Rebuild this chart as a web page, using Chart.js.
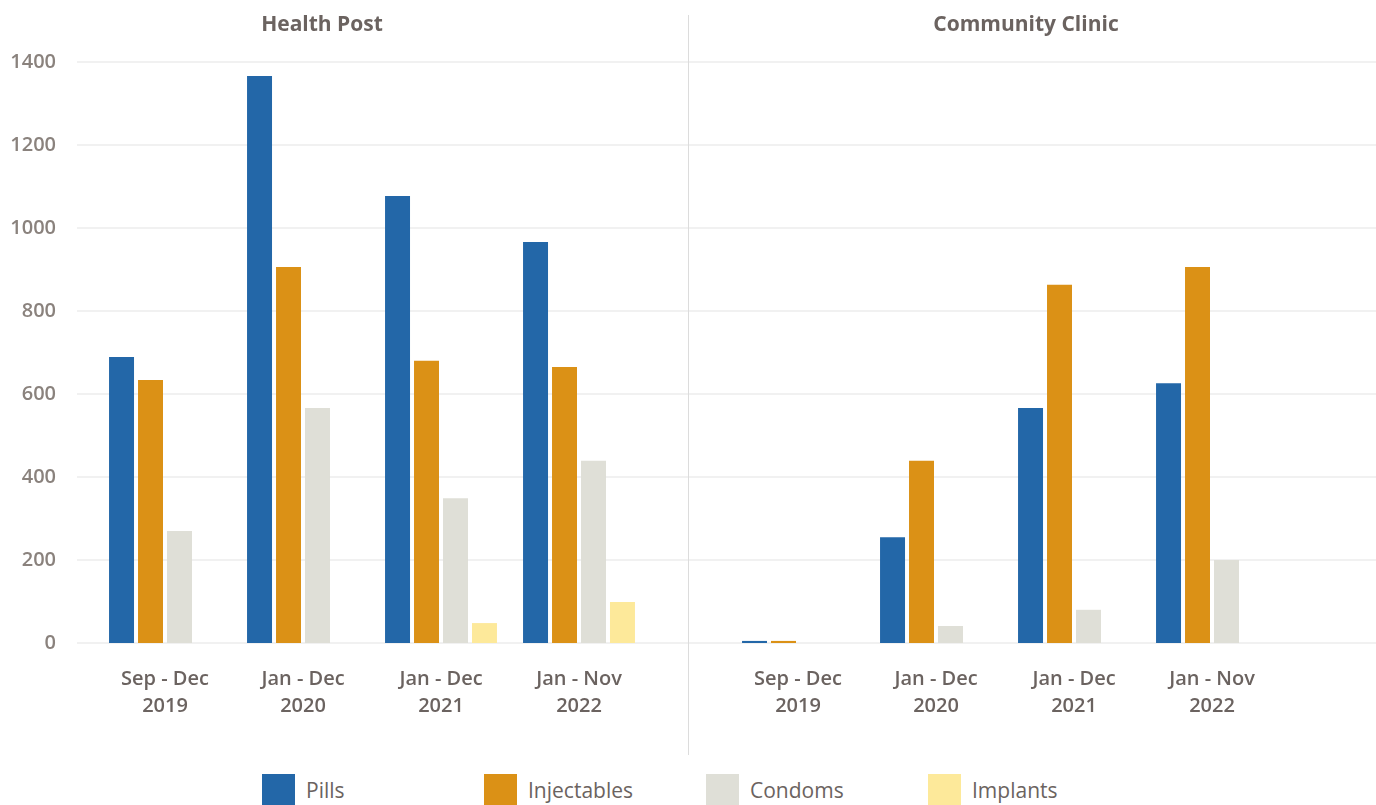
<!DOCTYPE html>
<html>
<head>
<meta charset="utf-8">
<script src="https://cdn.jsdelivr.net/npm/chart.js@4.4.1/dist/chart.umd.min.js"></script>
<style>
  body { margin: 0; background: #fff; font-family: 'Open Sans', sans-serif; }
  #wrap { position: relative; width: 1376px; height: 805px; overflow: hidden; }
  .panel { position: absolute; top: 0; width: 688px; height: 743px; }
  #left { left: 0; }
  #right { left: 688px; }
  #sep { position: absolute; left: 688px; top: 15px; width: 1px; height: 740px; background: #dcdcdc; }
  .title { position: absolute; top: 9px; font-size: 21px; font-weight: 700; color: #6b6360; transform: translateX(-50%); white-space: nowrap; }
  #legend { position: absolute; left: 262px; top: 774px; display: flex; }
  .item { width: 222px; display: flex; align-items: center; font-size: 21px; color: #6b6360; }
  .box { width: 33px; height: 32px; margin-right: 11px; }
</style>
</head>
<body>
<div id="wrap">
  <div class="panel" id="left"><canvas id="chartL"></canvas></div>
  <div class="panel" id="right"><canvas id="chartR"></canvas></div>
  <div id="sep"></div>
  <div class="title" style="left:322px">Health Post</div>
  <div class="title" style="left:1026px">Community Clinic</div>
  <div id="legend"></div>
</div>
<script>
// periods on the x axis (two-line labels)
const periods = [["Sep - Dec", "2019"], ["Jan - Dec", "2020"], ["Jan - Dec", "2021"], ["Jan - Nov", "2022"]];
const seriesNames = ["Pills", "Injectables", "Condoms", "Implants"];
const colors = ["#2367a8", "#db9116", "#dfdfd7", "#fde99a"];

// Health Post
const hpPills       = [689, 1366, 1077, 966];
const hpInjectables = [634, 906, 680, 665];
const hpCondoms     = [270, 566, 349, 439];
const hpImplants    = [0, 0, 48, 99];

// Community Clinic
const ccPills       = [5, 255, 566, 626];
const ccInjectables = [5, 439, 863, 906];
const ccCondoms     = [0, 41, 80, 200];
const ccImplants    = [0, 0, 0, 0];

const yMin = 0, yMax = 1400, yStep = 200;

Chart.defaults.font.family = "'Open Sans', sans-serif";

// grid lines across the whole panel, not only the plot area
const fullGrid = {
  id: 'fullGrid',
  beforeDatasetsDraw(chart, args, opts) {
    const ctx = chart.ctx, y = chart.scales.y;
    ctx.save();
    ctx.strokeStyle = '#ececec';
    ctx.lineWidth = 1.5;
    for (let v = yMin; v <= yMax; v += yStep) {
      const py = Math.round(y.getPixelForValue(v));
      ctx.beginPath();
      ctx.moveTo(opts.from, py);
      ctx.lineTo(chart.width, py);
      ctx.stroke();
    }
    ctx.restore();
  }
};

function makeSets(vals) {
  return vals.map((v, i) => ({
    label: seriesNames[i],
    data: v,
    backgroundColor: colors[i],
    categoryPercentage: 0.84,
    barPercentage: 0.862
  }));
}

function makeChart(id, vals, showY, padL, padR, gridFrom) {
  return new Chart(document.getElementById(id), {
    type: 'bar',
    data: { labels: periods, datasets: makeSets(vals) },
    plugins: [fullGrid],
    options: {
      responsive: false,
      animation: false,
      maintainAspectRatio: false,
      layout: { padding: { left: padL, right: padR, top: 62, bottom: 0 } },
      plugins: {
        legend: { display: false },
        tooltip: { enabled: false },
        fullGrid: { from: gridFrom }
      },
      scales: {
        x: {
          grid: { display: false, drawTicks: false },
          border: { display: false },
          afterFit(scale) { scale.height = 100; },
          ticks: {
            color: '#6b6360',
            padding: 23,
            font: { size: 20, weight: 600, lineHeight: '27px' },
            maxRotation: 0
          }
        },
        y: {
          display: showY,
          min: yMin, max: yMax,
          grid: { display: false, drawTicks: false },
          border: { display: false },
          afterFit(scale) { scale.width = showY ? 96 : 0; },
          ticks: {
            stepSize: yStep,
            color: '#8a827d',
            padding: 40,
            font: { size: 20, weight: 600 },
            callback: v => String(v)
          }
        }
      }
    }
  });
}

function sizeCanvas(id) {
  const c = document.getElementById(id);
  c.width = 688; c.height = 743;
  c.style.width = '688px'; c.style.height = '743px';
}
sizeCanvas('chartL');
sizeCanvas('chartR');

makeChart('chartL', [hpPills, hpInjectables, hpCondoms, hpImplants], true, 0, 40, 77);
makeChart('chartR', [ccPills, ccInjectables, ccCondoms, ccImplants], false, 41, 95, 0);

// legend
const lg = document.getElementById('legend');
seriesNames.forEach((n, i) => {
  const it = document.createElement('div');
  it.className = 'item';
  it.innerHTML = '<span class="box" style="background:' + colors[i] + '"></span><span>' + n + '</span>';
  lg.appendChild(it);
});
</script>
</body>
</html>
